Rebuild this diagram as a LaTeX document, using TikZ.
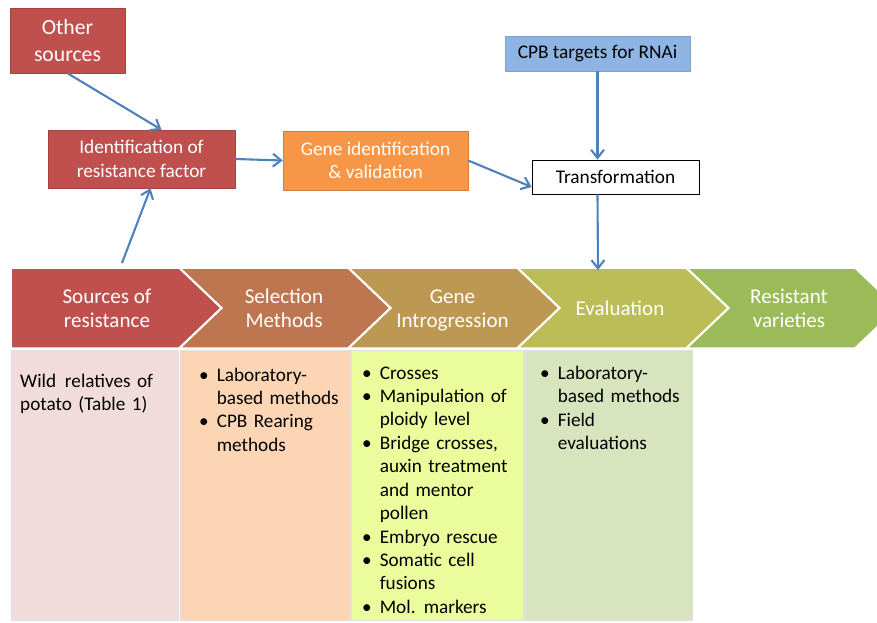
\documentclass[tikz,border=0pt]{standalone}
\usepackage{fontspec}
\setmainfont{Carlito}
\usetikzlibrary{positioning, calc, arrows.meta}

\definecolor{cpbred}{HTML}{C0504D}
\definecolor{cpborange}{HTML}{F79646}
\definecolor{cpbblue}{HTML}{8DB4E2}
\definecolor{arrblue}{HTML}{4F81BD}
\definecolor{chevA}{HTML}{C0504D}
\definecolor{chevB}{HTML}{BE7650}
\definecolor{chevC}{HTML}{BC9852}
\definecolor{chevD}{HTML}{BBBD56}
\definecolor{chevE}{HTML}{9BBB59}
\definecolor{colA}{HTML}{F2DCDB}
\definecolor{colB}{HTML}{FCD5B4}
\definecolor{colC}{HTML}{EBFC9C}
\definecolor{colD}{HTML}{D7E4BD}

\newcommand\bulitem[1]{\hangindent=15pt\hangafter=1\noindent\makebox[15pt][l]{\textbullet}#1\par}

\begin{document}
\begin{tikzpicture}[x=0.03cm, y=-0.03cm,
  box/.style={rectangle, align=center, inner sep=2pt, font=\fontsize{16.5}{20}\selectfont},
  redbox/.style={box, fill=cpbred, draw=cpbred!85!black, text=white},
  orangebox/.style={box, fill=cpborange, draw=cpborange!85!black, text=white},
  bluebox/.style={box, fill=cpbblue, draw=cpbblue!90!black, text=black},
  whitebox/.style={box, fill=white, draw=black, semithick},
  % process chevrons
  chev/.style={draw=white, line width=0.045cm, line join=miter},
  chevtext/.style={align=center, text=white, font=\fontsize{18}{21}\selectfont},
  % columns under the chevrons
  colbox/.style={rectangle, draw=black!12, minimum height=8.1cm, inner sep=0pt},
  coltext/.style={anchor=base west, text width=4.6cm, align=left, inner sep=0pt, font=\fontsize{16.4}{20}\selectfont},
  arr/.style={-{Straight Barb[length=7pt, width=11pt]}, draw=arrblue, line width=1.8pt}
]

\useasboundingbox (0,0) rectangle (877,623);

% ============================================
% TOP BOXES
% ============================================
\node[redbox, minimum width=3.45cm, minimum height=1.95cm, font=\fontsize{18.5}{23}\selectfont] (other) at (67.5,40.5) {Other\\sources};
\node[redbox, minimum width=5.61cm, minimum height=1.74cm] (idf) at (141.5,159) {Identification of\\resistance factor};
\node[orangebox, minimum width=5.55cm, minimum height=1.77cm] (gene) at (375.5,160.5) {Gene identification\\\& validation};
\node[bluebox, minimum width=5.55cm, minimum height=1.05cm] (cpb) at (597.5,53.5) {CPB targets for RNAi};
\node[whitebox, minimum width=5.01cm, minimum height=1.02cm] (trans) at (615.5,177) {Transformation};

% ============================================
% CHEVRONS
% ============================================
\begin{scope}
  \clip (0,0) rectangle (877,623);
  \filldraw[chev, fill=chevA] (11,268) -- (179,268) -- (221,308) -- (179,348) -- (11,348) -- cycle;
  \filldraw[chev, fill=chevB] (180,268) -- (348,268) -- (390,308) -- (348,348) -- (180,348) -- (222,308) -- cycle;
  \filldraw[chev, fill=chevC] (349,268) -- (517,268) -- (559,308) -- (517,348) -- (349,348) -- (391,308) -- cycle;
  \filldraw[chev, fill=chevD] (518,268) -- (686,268) -- (728,308) -- (686,348) -- (518,348) -- (560,308) -- cycle;
  \filldraw[chev, fill=chevE] (687,268) -- (855,268) -- (897,308) -- (855,348) -- (687,348) -- (729,308) -- cycle;
\end{scope}

\node[chevtext] (src) at (107,310.5) {\strut Sources of\\resistance\strut};
\node[chevtext] (sel) at (284,310.5) {\strut Selection\\Methods\strut};
\node[chevtext] (intro) at (452.5,310.5) {\strut Gene\\Introgression\strut};
\node[chevtext] (eval) at (620,311) {\strut Evaluation};
\node[chevtext] (res) at (789,310.5) {\strut Resistant\\varieties\strut};

\coordinate (srctop) at (122,263);
\coordinate (evtop) at (598,270);

% ============================================
% COLUMNS
% ============================================
\node[colbox, fill=colA, minimum width=5.01cm] (colsrc) at (94.5,485) {};
\node[colbox, fill=colB, minimum width=5.1cm] (colsel) at (265,485) {};
\node[colbox, fill=colC, minimum width=5.16cm] (colintro) at (437,485) {};
\node[colbox, fill=colD, minimum width=5.04cm] (coleval) at (608,485) {};

\node[coltext] (srclist) at (20,387) {Wild\ \hspace{2pt}relatives of\newline potato (Table 1)};
\node[coltext] (sellist) at (199,381) {%
  \bulitem{Laboratory-\newline based methods}%
  \bulitem{CPB Rearing\newline methods}};
\node[coltext] (introlist) at (362,379) {%
  \bulitem{Crosses}%
  \bulitem{Manipulation of\newline ploidy level}%
  \bulitem{Bridge crosses,\newline auxin treatment\newline and mentor\newline pollen}%
  \bulitem{Embryo rescue}%
  \bulitem{Somatic cell\newline fusions}%
  \bulitem{Mol.\ \hspace{1.5pt}markers}};
\node[coltext] (evallist) at (540,379.5) {%
  \bulitem{Laboratory-\newline based methods}%
  \bulitem{Field\newline evaluations}};

% ============================================
% ARROWS
% ============================================
\draw[arr] (other.south) -- ($(idf.north)+(20,0)$);
\draw[arr] (srctop) -- ($(idf.south)+(9,0)$);
\draw[arr] (idf.east) -- (gene.west);
\draw[arr] (gene.east) -- ($(trans.west)+(0,10)$);
\draw[arr] (cpb.south) -- (cpb.south |- trans.north);
\draw[arr] (cpb.south |- trans.south) -- (evtop);

\end{tikzpicture}
\end{document}
